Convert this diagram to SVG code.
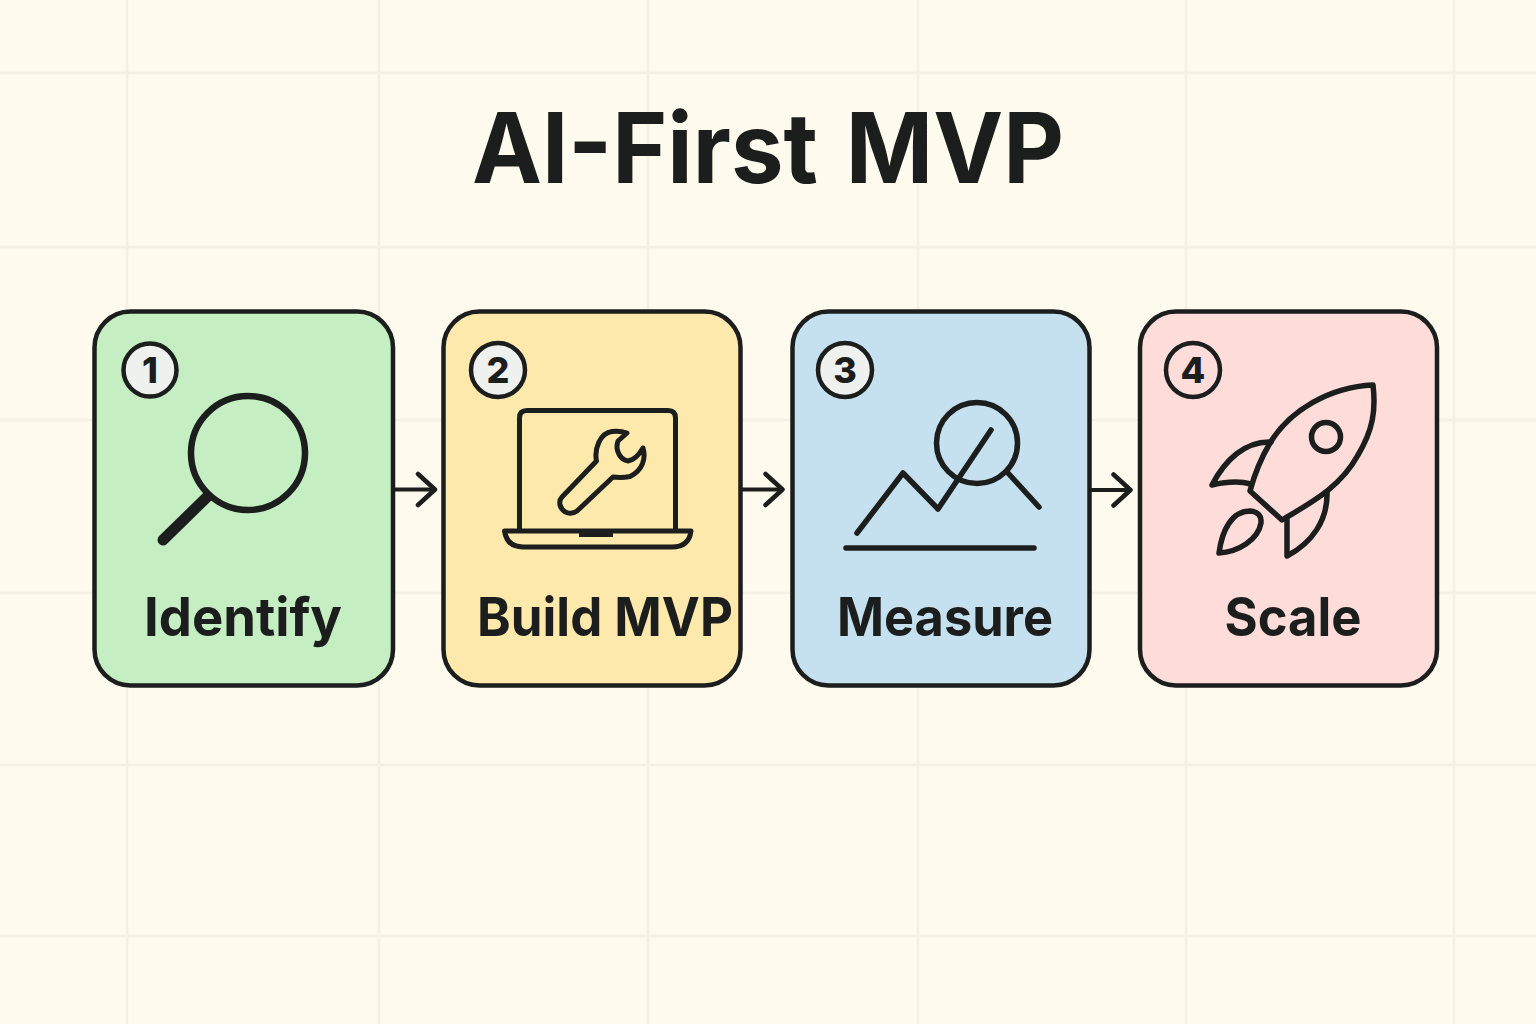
<svg xmlns="http://www.w3.org/2000/svg" width="1536" height="1024" viewBox="0 0 1536 1024">
<style>
.grid{stroke:#f4f0e3;stroke-width:2.5;fill:none}
.card{stroke:#1b1e1d;stroke-width:4.500}
.badge{stroke:#1b1e1d;stroke-width:4.500;fill:#eff1ef}
.ink{stroke:#1b1e1d;fill:none;stroke-linecap:round;stroke-linejoin:round}
text{font-family:"Inter","Liberation Sans",sans-serif;fill:#1b1e1d;text-anchor:middle}
.title{font-size:98px;font-weight:700;word-spacing:6px}
.label{font-size:54px;font-weight:700}
.num{font-size:36px;font-weight:800}
.conn{stroke:#1b1e1d;stroke-width:4;fill:none}
</style>
<defs>
<marker id="arrow" markerUnits="userSpaceOnUse" markerWidth="24" markerHeight="40" refX="20" refY="20" orient="auto" viewBox="0 0 24 40">
<path d="M3 4.500L20 20L3 35.500" fill="none" stroke="#1b1e1d" stroke-width="4.500" stroke-linecap="round" stroke-linejoin="round"/>
</marker>
</defs>
<rect width="1536" height="1024" fill="#fffaee"/>
<g id="grid" class="grid">
<path d="M127 0V1024M379 0V1024M648 0V1024M918 0V1024M1186 0V1024M1454 0V1024"/>
<path d="M0 73H1536M0 247H1536M0 420H1536M0 593H1536M0 765H1536M0 936H1536"/>
</g>
<text id="title" class="title" x="768" y="183" textLength="592" lengthAdjust="spacingAndGlyphs">AI-First MVP</text>
<g id="connectors">
<path class="conn" d="M393 489.500H435" marker-end="url(#arrow)"/>
<path class="conn" d="M741 489.500H782.500" marker-end="url(#arrow)"/>
<path class="conn" d="M1090 490H1130.500" marker-end="url(#arrow)"/>
</g>
<g id="node1">
<rect class="card" x="94.500" y="311.500" width="298.500" height="374" rx="36" fill="#c5eec3"/>
<circle class="badge" cx="150" cy="370" r="26.500"/>
<text class="num" x="150" y="383">1</text>
<circle class="ink" cx="248" cy="453" r="57" stroke-width="6.500"/>
<path class="ink" d="M207 497L163 540" stroke-width="11"/>
<text class="label" x="243" y="636" textLength="198" lengthAdjust="spacingAndGlyphs">Identify</text>
</g>
<g id="node2">
<rect class="card" x="443.500" y="311.500" width="297" height="374" rx="36" fill="#fee9ad"/>
<circle class="badge" cx="498" cy="370" r="27"/>
<text class="num" x="498" y="383">2</text>
<path class="ink" d="M519.500 530V418Q519.500 410.500 527 410.500H668Q675.500 410.500 675.500 418V530" stroke-width="5"/>
<path class="ink" d="M504.500 531H691Q689 547 672 547H523Q507 547 504.500 531Z" stroke-width="5"/>
<path d="M579 531H613V537H579Z" fill="#1b1e1d"/>
<path class="ink" d="M596.500 461C594 449 600 433 612 431.500Q620 430.500 627 433L618 441Q616 447 618 452Q621 460 628 461Q636 460 643 448C646 458 643 470 630 476.500Q622 478 613 477L577 511C570 516 562 512 560 505Q559 500 562 497Z" stroke-width="5"/>
<text class="label" x="605" y="636" textLength="256" lengthAdjust="spacingAndGlyphs">Build MVP</text>
</g>
<g id="node3">
<rect class="card" x="792.500" y="311.500" width="297" height="374" rx="36" fill="#c5e0ef"/>
<circle class="badge" cx="845" cy="370" r="27"/>
<text class="num" x="845" y="383">3</text>
<circle class="ink" cx="977" cy="443" r="40.500" stroke-width="5.500"/>
<path class="ink" d="M1008 473L1039 507" stroke-width="5.500"/>
<path class="ink" d="M857 533L903 473L938 509L991 430" stroke-width="5.500"/>
<path class="ink" d="M846 548H1034" stroke-width="5.500"/>
<text class="label" x="945" y="636" textLength="216" lengthAdjust="spacingAndGlyphs">Measure</text>
</g>
<g id="node4">
<rect class="card" x="1140" y="311.500" width="297" height="374" rx="36" fill="#fedcd9"/>
<circle class="badge" cx="1193" cy="370" r="27" style="fill:#fedcd9"/>
<text class="num" x="1193" y="383">4</text>
<path class="ink" d="M1373 385C1330 387 1290 410 1270 443Q1257 465 1250 491L1282 520C1310 503 1340 488 1358 455C1373 430 1376 410 1373 385Z" stroke-width="5.500"/>
<circle class="ink" cx="1326" cy="437" r="14.500" stroke-width="5.500"/>
<path class="ink" d="M1271 442C1245 441 1225 460 1212 485C1225 482 1240 481 1251 484" stroke-width="5.500"/>
<path class="ink" d="M1327 492C1328 520 1312 543 1287 556L1287 520" stroke-width="5.500"/>
<path class="ink" d="M1219 553C1222 530 1232 511 1250 511Q1262 512 1261 523C1258 540 1238 552 1219 553Z" stroke-width="5.500"/>
<text class="label" x="1293" y="636" textLength="137" lengthAdjust="spacingAndGlyphs">Scale</text>
</g>
</svg>
